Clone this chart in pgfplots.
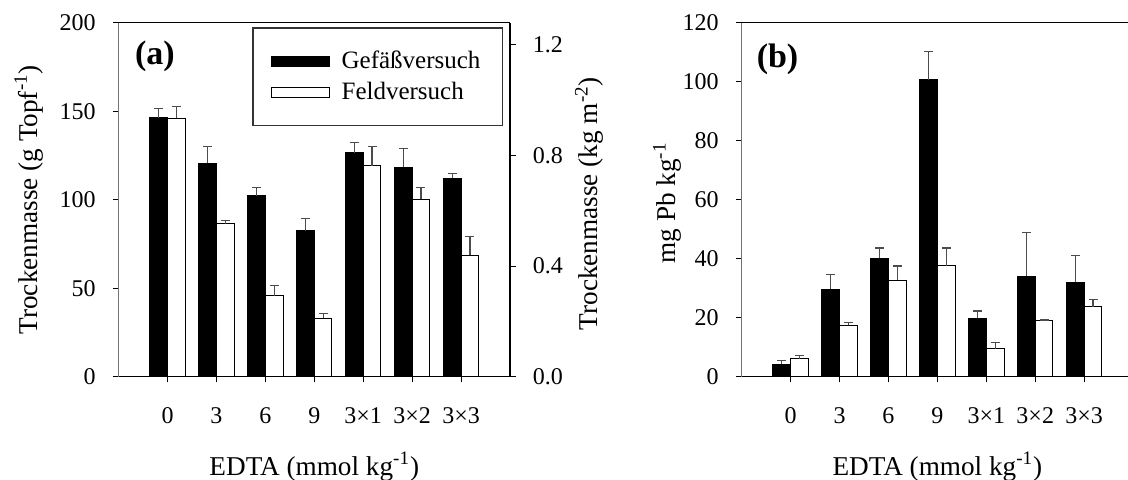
\documentclass[border=0pt]{standalone}
\usepackage{pgfplots}
\usepackage{pgfplotstable}
\pgfplotsset{compat=1.18}
\usepackage{fontspec}
\setmainfont{Liberation Serif}

% (a) Trockenmasse, Gefaessversuch in g Topf^-1
\pgfplotstableread{
x y e
0 146.3 5.3
1 120.5 9.4
2 102.3 4.5
3 82.5 6.9
4 126.5 5.9
5 118.3 10.7
6 112.2 2.7
}\TabAGef
% (a) Trockenmasse, Feldversuch in kg m^-2
\pgfplotstableread{
x y e
0 0.934 0.042
1 0.553 0.012
2 0.292 0.038
3 0.211 0.017
4 0.762 0.069
5 0.641 0.043
6 0.440 0.066
}\TabAFeld
% (b) mg Pb kg^-1
\pgfplotstableread{
x y e
0 4.3 1.1
1 29.6 5.0
2 40.1 3.5
3 100.6 9.6
4 19.8 2.5
5 34.0 14.8
6 32.1 9.1
}\TabBGef
\pgfplotstableread{
x y e
0 6.1 1.2
1 17.5 0.8
2 32.7 4.8
3 37.6 6.0
4 9.5 2.1
5 19.0 0.2
6 23.7 2.5
}\TabBFeld

% half bar width in x units: 8.85pt / (195.7pt/8)
\def\hb{0.1809}

\pgfplotsset{
  common/.style={
    scale only axis, width=195.7pt, height=177pt,
    xmin=-1, xmax=7, ymin=0,
    tick align=outside, major tick length=2.8pt,
    tick style={black, line width=0.5pt},
    tick label style={font=\fontsize{12}{14}\selectfont},
    label style={font=\fontsize{13.6}{16}\selectfont},
    /pgf/number format/assume math mode=true,
    separate axis lines,
    axis line style={line width=0.6pt},
    y axis line style={black!55},
    x axis line style={black},
    minor tick num=0,
  },
  barsty/.style={ybar, bar width=8.85pt, bar shift=0pt, line width=0.5pt, draw=black,
    error bars/y dir=plus, error bars/y explicit,
    error bars/error bar style={black!70, line width=0.6pt},
    error bars/error mark options={black!70, line width=0.6pt, mark size=2.25pt, rotate=90}},
  mylegend/.style={legend image code/.code={\draw[##1, line width=0.5pt] (0pt,-2.5pt) rectangle (28.85pt,2.5pt);}},
}

\begin{document}
\begin{tikzpicture}
\useasboundingbox (0,0) rectangle (564pt,239.5pt);

% ---------- panel (a), left axis ----------
\begin{axis}[common, at={(59.3pt,51.15pt)}, anchor=south west,
  ymax=200, ytick={0,50,100,150,200}, tick pos=left,
  xtick={0,...,6}, xticklabels={0,3,6,9,3×1,3×2,3×3},
  xticklabel style={anchor=base, yshift=-20.7pt},
  yticklabel style={anchor=east, inner sep=0pt, xshift=-8.5pt},
  xlabel={EDTA (mmol kg\textsuperscript{-1})},
  xlabel style={at={(axis description cs:0.5,-0.278)}, anchor=base},
  ylabel={Trockenmasse (g Topf\textsuperscript{-1})},
  ylabel style={at={(axis description cs:-0.2077,0.5)}, anchor=base},
]
\addplot[barsty, fill=black] table[x expr=\thisrow{x}-\hb, y=y, y error=e] {\TabAGef};
\node[font=\fontsize{17}{20}\selectfont\bfseries] at (axis description cs:0.093,0.906) {(a)};
\end{axis}

% ---------- panel (a), right axis ----------
\begin{axis}[common, at={(59.3pt,51.15pt)}, anchor=south west,
  ymax=1.28, ytick={0,0.4,0.8,1.2},
  axis y line*=right, axis x line=none,
  y axis line style={black},
  yticklabel style={anchor=west, inner sep=0pt, xshift=8.5pt,
    /pgf/number format/.cd, fixed, fixed zerofill, precision=1},
  ylabel={Trockenmasse (kg m\textsuperscript{-2})},
  ylabel style={at={(axis description cs:1.2248,0.489)}, anchor=base},
  legend style={at={(axis description cs:0.3416,0.987)}, anchor=north west,
    draw=black!80, line width=0.6pt, font=\fontsize{12.5}{15}\selectfont,
    inner xsep=9pt, inner ysep=9.5pt, row sep=1.5pt,
    /tikz/every odd column/.append style={column sep=4pt}},
  legend cell align=left,
]
\addlegendimage{mylegend, fill=black, draw=black}
\addlegendentry{Gefäßversuch}
\addplot[barsty, fill=white, mylegend] table[x expr=\thisrow{x}+\hb, y=y, y error=e] {\TabAFeld};
\addlegendentry{Feldversuch}
\end{axis}

% ---------- panel (b) ----------
\begin{axis}[common, at={(370.85pt,51.15pt)}, anchor=south west,
  ymax=120, ytick={0,20,...,120}, tick pos=left,
  xtick={0,...,6}, xticklabels={0,3,6,9,3×1,3×2,3×3},
  xticklabel style={anchor=base, yshift=-20.7pt},
  yticklabel style={anchor=east, inner sep=0pt, xshift=-8.5pt},
  xlabel={EDTA (mmol kg\textsuperscript{-1})},
  xlabel style={at={(axis description cs:0.5,-0.278)}, anchor=base},
  ylabel={mg Pb kg\textsuperscript{-1}},
  ylabel style={at={(axis description cs:-0.168,0.4915)}, anchor=base},
]
\addplot[barsty, fill=black] table[x expr=\thisrow{x}-\hb, y=y, y error=e] {\TabBGef};
\addplot[barsty, fill=white] table[x expr=\thisrow{x}+\hb, y=y, y error=e] {\TabBFeld};
\node[font=\fontsize{17}{20}\selectfont\bfseries] at (axis description cs:0.0915,0.897) {(b)};
\end{axis}
\end{tikzpicture}
\end{document}
